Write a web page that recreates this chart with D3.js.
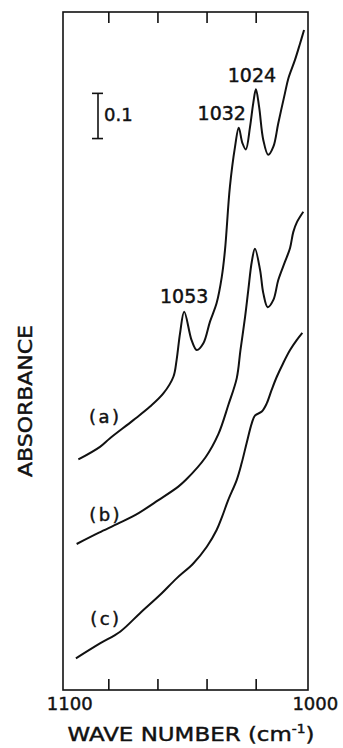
<!DOCTYPE html>
<html>
<head>
<meta charset="utf-8">
<script src="https://cdn.jsdelivr.net/npm/d3@7"></script>
<style>
  html, body { margin: 0; padding: 0; background: #fff; }
  svg { display: block; }
  text { font-family: "DejaVu Sans", sans-serif; fill: #111; stroke: #111; stroke-width: 0.45px; }
</style>
</head>
<body>
<script>
// Chart size
const width = 343;
const height = 748;
const frame = { left: 63, right: 308, top: 12, bottom: 690 };

// Wave numbers (cm-1) and absorbance for each spectrum
const waveA = [1092.2, 1083.4, 1079.3, 1069.8, 1063.0, 1057.6, 1053.5, 1052.2, 1050.8, 1049.1,
  1046.1, 1044.0, 1041.3, 1038.6, 1035.9, 1033.8, 1032.5, 1030.5, 1028.4, 1026.9,
  1025.4, 1024.0, 1022.3, 1021.0, 1019.9, 1018.6, 1016.9, 1014.9, 1012.8, 1010.8,
  1008.1, 1006.7, 1004.0, 1001.9, 1000.3];
const absA = [0.510, 0.538, 0.557, 0.597, 0.627, 0.656, 0.693, 0.730, 0.789, 0.837,
  0.774, 0.752, 0.767, 0.815, 0.856, 0.914, 0.973, 1.113, 1.202, 1.244,
  1.210, 1.196, 1.246, 1.298, 1.329, 1.290, 1.217, 1.184, 1.202, 1.254,
  1.320, 1.353, 1.394, 1.431, 1.460];

const waveB = [1092.9, 1083.8, 1075.7, 1067.5, 1059.6, 1051.5, 1048.4, 1040.4, 1035.2, 1031.1,
  1027.7, 1026.2, 1024.3, 1023.0, 1021.6, 1020.3, 1018.2, 1016.9, 1015.1, 1012.8,
  1010.8, 1008.1, 1006.0, 1004.7, 1003.2, 1000.6];
const absB = [0.323, 0.348, 0.369, 0.392, 0.420, 0.450, 0.465, 0.515, 0.566, 0.631,
  0.690, 0.752, 0.826, 0.885, 0.947, 0.976, 0.929, 0.878, 0.847, 0.863,
  0.907, 0.947, 0.978, 1.013, 1.035, 1.058];

const waveC = [1093.2, 1083.4, 1075.2, 1067.1, 1059.0, 1052.2, 1045.4, 1039.9, 1035.9, 1033.7,
  1031.2, 1027.7, 1025.7, 1023.7, 1021.6, 1020.3, 1017.5, 1015.5, 1013.5, 1011.4,
  1008.8, 1006.0, 1003.3, 1001.0];
const absC = [0.070, 0.103, 0.129, 0.170, 0.210, 0.247, 0.280, 0.317, 0.354, 0.383,
  0.420, 0.465, 0.502, 0.546, 0.590, 0.607, 0.616, 0.634, 0.664, 0.693,
  0.723, 0.752, 0.774, 0.790];

const seriesNames = ['(a)', '(b)', '(c)'];
const tickValues = [1080, 1060, 1040, 1020];
const endLabels = [1100, 1000];
const peakLabels = ['1053', '1032', '1024'];
const peakWaves = [1049.1, 1026.9, 1019.9];
const peakAbs = [0.837, 1.244, 1.329];
const scaleBar = [1.32, 1.22]; // 0.1 absorbance

const svg = d3.select('body')
  .append('svg')
  .attr('width', width)
  .attr('height', height);

// Scales
const xScale = d3.scaleLinear()
  .domain([1100, 1000])
  .range([59.2, 304.8]);

const yScale = d3.scaleLinear()
  .domain([0, 1.5])
  .range([690, 12]);

// Frame
svg.append('rect')
  .attr('x', frame.left)
  .attr('y', frame.top)
  .attr('width', frame.right - frame.left)
  .attr('height', frame.bottom - frame.top)
  .attr('fill', 'none')
  .attr('stroke', '#111')
  .attr('stroke-width', 1.6);

// Inner ticks, top and bottom
const bottomAxis = svg.append('g')
  .attr('transform', `translate(0, ${frame.bottom})`)
  .call(d3.axisBottom(xScale).tickValues(tickValues).tickSize(-11).tickFormat(''));
const topAxis = svg.append('g')
  .attr('transform', `translate(0, ${frame.top})`)
  .call(d3.axisTop(xScale).tickValues(tickValues).tickSize(-11).tickFormat(''));
[bottomAxis, topAxis].forEach(g => {
  g.select('.domain').remove();
  g.selectAll('line').attr('stroke', '#111').attr('stroke-width', 1.6);
});

// End labels 1100 and 1000
const labelAxis = svg.append('g')
  .attr('transform', `translate(10, ${frame.bottom + 4})`)
  .call(d3.axisBottom(xScale).tickValues(endLabels).tickSize(0).tickFormat(d3.format('d')));
labelAxis.select('.domain').remove();
labelAxis.selectAll('text')
  .style('font-family', '"DejaVu Sans", sans-serif')
  .style('font-size', '18px')
  .attr('fill', '#111');

// Axis titles
svg.append('text')
  .attr('x', 191)
  .attr('y', 741)
  .attr('text-anchor', 'middle')
  .style('font-size', '20px')
  .attr('textLength', 247)
  .attr('lengthAdjust', 'spacingAndGlyphs')
  .html('WAVE NUMBER (cm<tspan dy="-8" font-size="12">-1</tspan><tspan dy="8">)</tspan>');

svg.append('text')
  .attr('transform', 'translate(32, 401) rotate(-90)')
  .attr('text-anchor', 'middle')
  .style('font-size', '20px')
  .attr('textLength', 152)
  .attr('lengthAdjust', 'spacingAndGlyphs')
  .text('ABSORBANCE');

// Spectra
const line = d3.line()
  .x(d => xScale(d[0]))
  .y(d => yScale(d[1]))
  .curve(d3.curveCatmullRom.alpha(0.5));

const spectra = [
  d3.zip(waveA, absA),
  d3.zip(waveB, absB),
  d3.zip(waveC, absC)
];

svg.selectAll('path.spectrum')
  .data(spectra)
  .enter()
  .append('path')
  .attr('class', 'spectrum')
  .attr('d', line)
  .attr('fill', 'none')
  .attr('stroke', '#111')
  .attr('stroke-width', 2)
  .attr('stroke-linejoin', 'round');

// Series labels, placed just above the start of each curve
const labelOffsets = [[27, -36], [29, -23], [30, -33]];
svg.selectAll('text.series')
  .data(seriesNames)
  .enter()
  .append('text')
  .attr('class', 'series')
  .attr('x', (d, i) => xScale(spectra[i][0][0]) + labelOffsets[i][0])
  .attr('y', (d, i) => yScale(spectra[i][0][1]) + labelOffsets[i][1])
  .attr('text-anchor', 'middle')
  .style('font-size', '18px')
  .style('letter-spacing', '2.5px')
  .text(d => d);

// Peak labels
const peakOffsets = [[0, -9], [-17, -8], [-4, -7]];
svg.selectAll('text.peak')
  .data(peakLabels)
  .enter()
  .append('text')
  .attr('class', 'peak')
  .attr('x', (d, i) => xScale(peakWaves[i]) + peakOffsets[i][0])
  .attr('y', (d, i) => yScale(peakAbs[i]) + peakOffsets[i][1])
  .attr('text-anchor', 'middle')
  .style('font-size', '19px')
  .text(d => d);

// Absorbance scale bar
const barX = 98;
const bar = svg.append('g').attr('stroke', '#111').attr('stroke-width', 1.6);
bar.append('line')
  .attr('x1', barX).attr('x2', barX)
  .attr('y1', yScale(scaleBar[0])).attr('y2', yScale(scaleBar[1]));
scaleBar.forEach(v => {
  bar.append('line')
    .attr('x1', barX - 6).attr('x2', barX + 5)
    .attr('y1', yScale(v)).attr('y2', yScale(v));
});
svg.append('text')
  .attr('x', 104)
  .attr('y', 121)
  .style('font-size', '18px')
  .text('0.1');
</script>
</body>
</html>
